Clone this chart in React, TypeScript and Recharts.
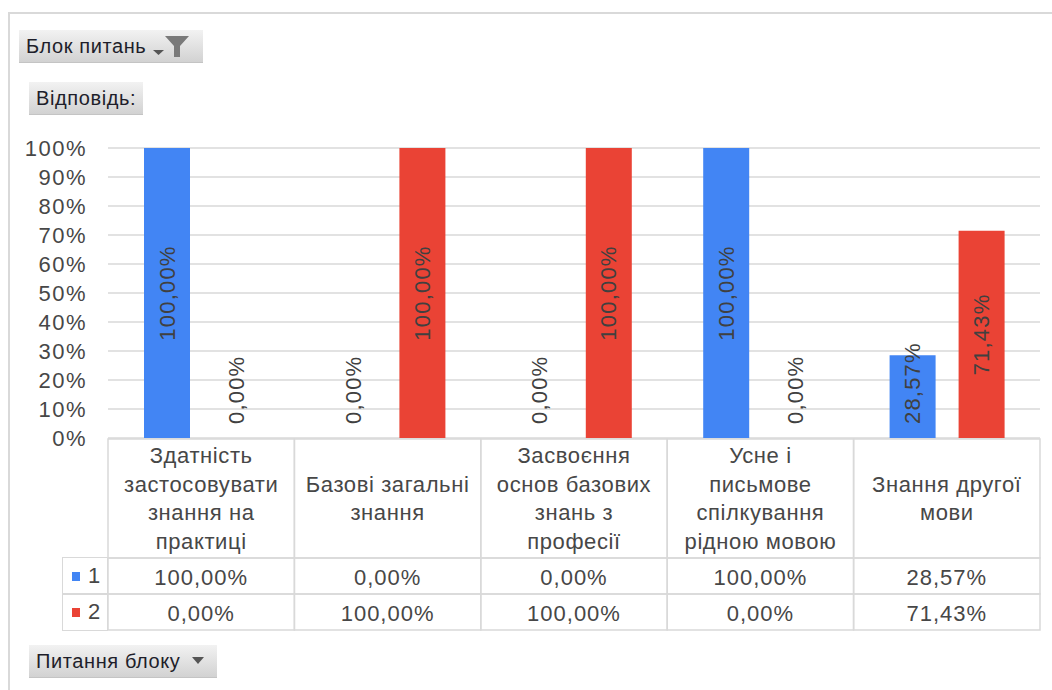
import React from "react";
import { BarChart, Bar, XAxis, YAxis, CartesianGrid, LabelList } from "recharts";

const categories = [
  "Здатність\nзастосовувати\nзнання на\nпрактиці",
  "Базові загальні\nзнання",
  "Засвоєння\nоснов базових\nзнань з\nпрофесії",
  "Усне і\nписьмове\nспілкування\nрідною мовою",
  "Знання другої\nмови",
];
const series1 = [100, 0, 0, 100, 28.57];
const series2 = [0, 100, 100, 0, 71.43];
const seriesNames = ["1", "2"];
const yTicks = [0, 10, 20, 30, 40, 50, 60, 70, 80, 90, 100];

const BLUE = "#4285F4";
const RED = "#EA4335";
const GRID = "#d9d9d9";
const TEXT = "#474747";
const FONT = "'Liberation Sans', Arial, sans-serif";

const W = 1052;
const H = 690;
const PLOT_LEFT = 108;
const PLOT_RIGHT = 1040;
const PLOT_TOP = 148;
const PLOT_BOTTOM = 438;
const AXIS_H = 192;
const BAND = (PLOT_RIGHT - PLOT_LEFT) / categories.length;
const TABLE_TOP = 439;
const HEAD_BOTTOM = 558;
const ROW1_BOTTOM = 594;
const ROW2_BOTTOM = 630;

const data = categories.map((c, i) => ({ name: c, s1: series1[i], s2: series2[i] }));

const fmt = (v: number) => v.toFixed(2).replace(".", ",") + "%";

function TableTick(props: any) {
  const { x, payload, index } = props;
  const idx = index ?? payload.index;
  const x0 = x - BAND / 2;
  const lines = String(payload.value).split("\n");
  const mid = (TABLE_TOP + HEAD_BOTTOM) / 2;
  const lh = 28.5;
  return (
    <g>
      <rect x={x0} y={TABLE_TOP} width={BAND} height={HEAD_BOTTOM - TABLE_TOP} fill="none" stroke={GRID} strokeWidth={1.5} />
      <rect x={x0} y={HEAD_BOTTOM} width={BAND} height={ROW1_BOTTOM - HEAD_BOTTOM} fill="none" stroke={GRID} strokeWidth={1.5} />
      <rect x={x0} y={ROW1_BOTTOM} width={BAND} height={ROW2_BOTTOM - ROW1_BOTTOM} fill="none" stroke={GRID} strokeWidth={1.5} />
      {lines.map((l, i) => (
        <text
          key={i}
          x={x}
          y={mid + (i - (lines.length - 1) / 2) * lh}
          textAnchor="middle"
          dominantBaseline="central"
          fontSize={22}
          letterSpacing={0.6}
          fill={TEXT}
          fontFamily={FONT}
        >
          {l}
        </text>
      ))}
      <text x={x} y={(HEAD_BOTTOM + ROW1_BOTTOM) / 2 + 1} textAnchor="middle" dominantBaseline="central" fontSize={22} letterSpacing={1} fill={TEXT} fontFamily={FONT}>
        {fmt(series1[idx])}
      </text>
      <text x={x} y={(ROW1_BOTTOM + ROW2_BOTTOM) / 2 + 1} textAnchor="middle" dominantBaseline="central" fontSize={22} letterSpacing={1} fill={TEXT} fontFamily={FONT}>
        {fmt(series2[idx])}
      </text>
    </g>
  );
}

function BarValueLabel(props: any) {
  const { x, y, width, height, value } = props;
  const text = fmt(Number(value));
  const cx = x + width / 2;
  const base = y + height;
  const approxLen = text.length * 13.5;
  let cy: number;
  let anchor: "middle" | "start";
  if (height < approxLen + 20) {
    cy = base - 14;
    anchor = "start";
  } else {
    cy = y + height / 2;
    anchor = "middle";
  }
  return (
    <text
      x={cx}
      y={cy}
      transform={`rotate(-90, ${cx}, ${cy})`}
      textAnchor={anchor}
      dominantBaseline="central"
      fontSize={22}
      letterSpacing={1.2}
      fill="#404040"
      fontFamily={FONT}
    >
      {text}
    </text>
  );
}

function Button({ left, top, width, children }: { left: number; top: number; width: number; children: React.ReactNode }) {
  return (
    <div
      style={{
        position: "absolute",
        left,
        top,
        width,
        height: 33,
        boxSizing: "border-box",
        background: "linear-gradient(#f2f2f2, #d2d2d2)",
        borderBottom: "1px solid #c4c4c4",
        display: "flex",
        alignItems: "center",
        paddingLeft: 7,
        fontFamily: FONT,
        fontSize: 20,
        letterSpacing: 0.6,
        color: "#1e1e2a",
      }}
    >
      {children}
    </div>
  );
}

export default function App() {
  return (
    <div style={{ position: "absolute", left: 0, top: 0, width: W, height: H, background: "#fff", overflow: "hidden" }}>
      <div
        style={{
          position: "absolute",
          left: 8,
          top: 12,
          width: W,
          height: H,
          borderTop: `2px solid ${GRID}`,
          borderLeft: `2px solid ${GRID}`,
          boxSizing: "border-box",
        }}
      />
      <Button left={19} top={30} width={184}>
        <span>Блок питань</span>
        <svg width={44} height={28} style={{ marginLeft: 5 }}>
          <polygon points="2,18 13,18 7.5,23" fill="#555" />
          <polygon points="14,4 38,4 29,14 29,25 23,25 23,14" fill="#7a7a7a" />
        </svg>
      </Button>
      <Button left={29} top={82} width={114}>
        <span>Відповідь:</span>
      </Button>
      <Button left={29} top={645} width={188}>
        <span>Питання блоку</span>
        <svg width={22} height={20} style={{ marginLeft: 10 }}>
          <polygon points="2,6 14,6 8,13" fill="#555" />
        </svg>
      </Button>

      <div style={{ position: "absolute", left: 0, top: 0 }}>
        <BarChart
          width={W}
          height={H}
          data={data}
          margin={{ top: PLOT_TOP, right: W - PLOT_RIGHT, bottom: H - PLOT_BOTTOM - AXIS_H, left: 0 }}
          barSize={46}
          barGap={23}
        >
          <CartesianGrid vertical={false} stroke={GRID} strokeWidth={1.5} />
          <YAxis
            width={PLOT_LEFT}
            domain={[0, 100]}
            ticks={yTicks}
            interval={0}
            axisLine={false}
            tickLine={false}
            tickSize={0}
            tickMargin={21}
            tickFormatter={(v: number) => `${v}%`}
            tick={{ fontSize: 22, fill: TEXT, fontFamily: FONT, letterSpacing: 1.5 }}
          />
          <XAxis
            dataKey="name"
            height={AXIS_H}
            axisLine={false}
            tickLine={false}
            tickSize={0}
            tickMargin={0}
            interval={0}
            tick={<TableTick />}
          />
          <Bar dataKey="s1" name={seriesNames[0]} fill={BLUE} minPointSize={0.001} isAnimationActive={false}>
            <LabelList dataKey="s1" content={<BarValueLabel />} />
          </Bar>
          <Bar dataKey="s2" name={seriesNames[1]} fill={RED} minPointSize={0.001} isAnimationActive={false}>
            <LabelList dataKey="s2" content={<BarValueLabel />} />
          </Bar>
        </BarChart>
      </div>

      {/* legend cells of the data table */}
      {seriesNames.map((n, i) => {
        const top = i === 0 ? HEAD_BOTTOM : ROW1_BOTTOM;
        return (
          <div
            key={n}
            style={{
              position: "absolute",
              left: 62,
              top: top - 0.75,
              width: PLOT_LEFT - 62,
              height: ROW1_BOTTOM - HEAD_BOTTOM + 1.5,
              border: `1.5px solid ${GRID}`,
              boxSizing: "border-box",
              display: "flex",
              alignItems: "center",
              fontFamily: FONT,
              fontSize: 22,
              color: TEXT,
            }}
          >
            <span style={{ display: "inline-block", width: 8, height: 9, background: i === 0 ? BLUE : RED, marginLeft: 9, marginRight: 8 }} />
            <span>{n}</span>
          </div>
        );
      })}
    </div>
  );
}
